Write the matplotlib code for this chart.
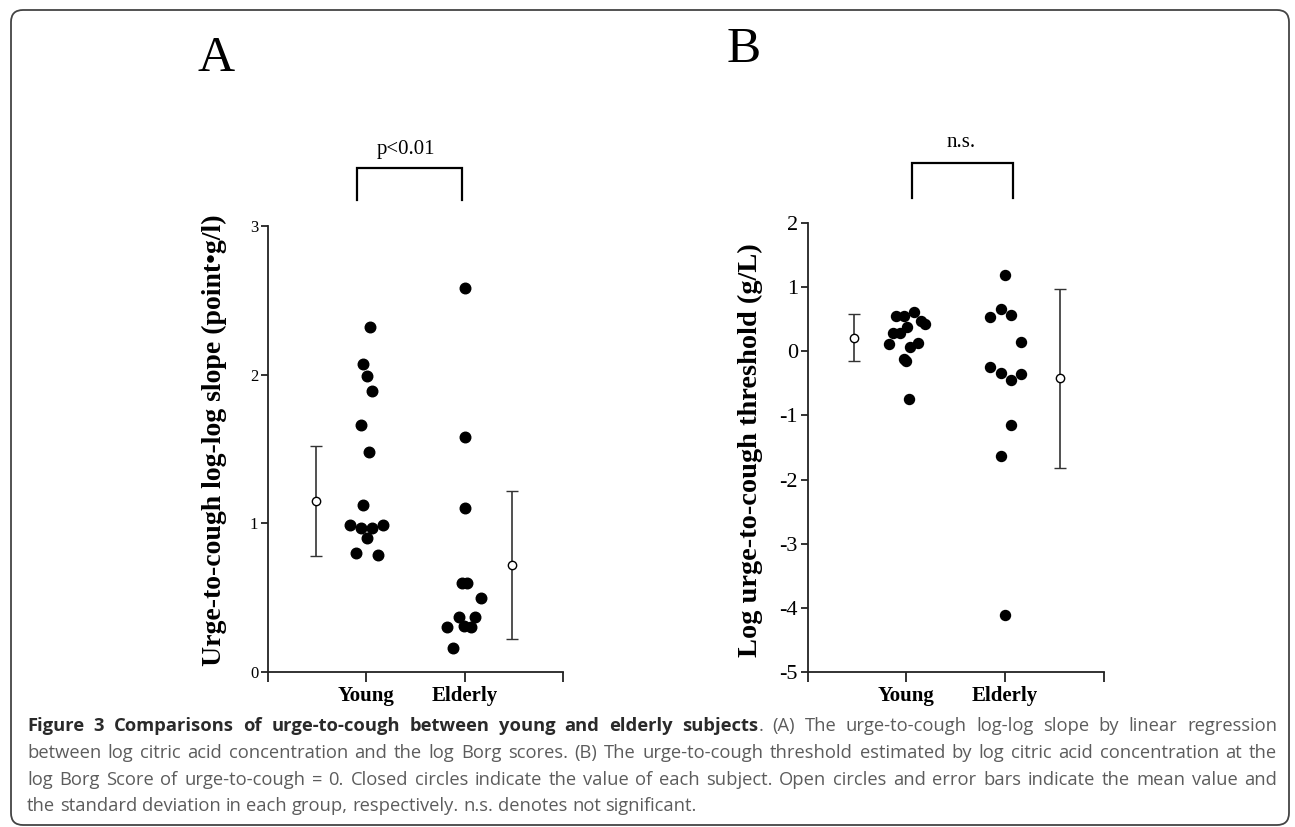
import matplotlib
matplotlib.use("Agg")
import matplotlib.pyplot as plt
from matplotlib.patches import FancyBboxPatch
from matplotlib.transforms import IdentityTransform

# ---------------- data ----------------
groups = ["Young", "Elderly"]

# Panel A: urge-to-cough log-log slope
young_slope = [2.32, 2.07, 1.99, 1.89, 1.66, 1.48, 1.12, 0.99, 0.97, 0.97, 0.99, 0.90, 0.80, 0.79]
young_slope_dx = [0.04, -0.03, 0.01, 0.06, -0.05, 0.03, -0.03, -0.17, -0.05, 0.06, 0.17, 0.01, -0.11, 0.12]
elderly_slope = [2.58, 1.58, 1.10, 0.60, 0.60, 0.50, 0.37, 0.37, 0.31, 0.30, 0.30, 0.16]
elderly_slope_dx = [0.00, 0.00, 0.00, -0.03, 0.02, 0.17, -0.06, 0.11, -0.01, 0.06, -0.18, -0.12]
slope_mean = [1.15, 0.72]
slope_sd = [0.37, 0.495]

# Panel B: log urge-to-cough threshold
young_thr = [0.11, 0.28, 0.28, 0.55, 0.55, 0.38, 0.61, 0.47, 0.43, 0.07, 0.13, -0.12, -0.16, -0.75]
young_thr_dx = [-0.18, -0.14, -0.07, -0.11, -0.03, 0.01, 0.08, 0.15, 0.19, 0.04, 0.12, -0.03, 0.00, 0.03]
elderly_thr = [1.19, 0.53, 0.65, 0.56, 0.15, -0.25, -0.34, -0.45, -0.36, -1.15, -1.63, -4.11]
elderly_thr_dx = [0.00, -0.15, -0.04, 0.06, 0.16, -0.15, -0.04, 0.06, 0.16, 0.06, -0.04, 0.00]
thr_mean = [0.21, -0.42]
thr_sd = [0.365, 1.395]

yticks_A = [0, 1, 2, 3]
yticks_B = [-5, -4, -3, -2, -1, 0, 1, 2]

# ---------------- layout ----------------
W, H = 1295, 827
fig = plt.figure(figsize=(W / 100, H / 100), dpi=100)
fig.patch.set_facecolor("white")
SERIF = "Liberation Serif"
CAPF = "Open Sans"

axA = fig.add_axes([268 / W, 1 - 672 / H, 295 / W, 446 / H])
axB = fig.add_axes([807.7 / W, 1 - 672.3 / H, 296.3 / W, 449.6 / H])

def style_axis(ax, ylim, yticks, ytick_size):
    for s in ("top", "right"):
        ax.spines[s].set_visible(False)
    for s in ("left", "bottom"):
        ax.spines[s].set_linewidth(1.3)
        ax.spines[s].set_color("#222222")
    ax.set_xlim(0, 3)
    ax.set_ylim(*ylim)
    ax.set_xticks([0, 1, 2, 3])
    ax.set_xticklabels(["", groups[0], groups[1], ""], fontfamily=SERIF,
                       fontweight="bold", fontsize=15)
    ax.set_yticks(yticks)
    ax.set_yticklabels([str(t) for t in yticks], fontfamily=SERIF, fontsize=ytick_size)
    ax.tick_params(axis="x", direction="out", length=7, width=1.3, color="#222222", pad=3)
    ax.tick_params(axis="y", direction="out", length=5, width=1.3, color="#222222", pad=2)
    ax.set_facecolor("none")

style_axis(axA, (0, 3), yticks_A, 12)
style_axis(axB, (-5, 2), yticks_B, 16)

def draw_group(ax, vals, dx, center, ms):
    ax.plot([center + d for d in dx], vals, "o", color="black", ms=ms, clip_on=False, zorder=3)

draw_group(axA, young_slope, young_slope_dx, 1, 7.6)
draw_group(axA, elderly_slope, elderly_slope_dx, 2, 7.6)
draw_group(axB, young_thr, young_thr_dx, 1, 7.2)
draw_group(axB, elderly_thr, elderly_thr_dx, 2, 7.2)

mean_x_A = [0.49, 2.48]
mean_x_B = [0.47, 2.55]
for ax, mx, m, sd in ((axA, mean_x_A, slope_mean, slope_sd), (axB, mean_x_B, thr_mean, thr_sd)):
    ax.errorbar(mx, m, yerr=sd, fmt="o", mfc="white", mec="black", mew=1.0, ms=6,
                ecolor="#333333", elinewidth=1.2, capsize=4.5, capthick=1.2,
                clip_on=False, zorder=4)

# significance brackets
axA.plot([0.91, 0.91, 1.97, 1.97], [3.175, 3.39, 3.39, 3.175], color="black", lw=1.6,
         clip_on=False, solid_joinstyle="miter")
axA.text(1.40, 3.484, "p<0.01", ha="center", va="baseline", fontfamily=SERIF, fontsize=15)
axB.plot([1.056, 1.056, 2.078, 2.078], [2.38, 2.93, 2.93, 2.38], color="black", lw=1.6,
         clip_on=False, solid_joinstyle="miter")
axB.text(1.55, 3.177, "n.s.", ha="center", va="baseline", fontfamily=SERIF, fontsize=15)

# panel letters
fig.text(198 / W, 1 - 71 / H, "A", fontfamily=SERIF, fontsize=37, va="baseline", ha="left")
fig.text(727 / W, 1 - 62 / H, "B", fontfamily=SERIF, fontsize=37, va="baseline", ha="left")

# y labels
fig.text(214 / W, 1 - 440 / H, "Urge-to-cough log-log slope (point\u2022g/l)", rotation=90,
         ha="center", va="center", fontfamily=SERIF, fontweight="bold", fontsize=20)
fig.text(750 / W, 1 - 450 / H, "Log urge-to-cough threshold (g/L)", rotation=90,
         ha="center", va="center", fontfamily=SERIF, fontweight="bold", fontsize=20.4)

# border
border = FancyBboxPatch((11, 2), 1278, 815, boxstyle="round,pad=0,rounding_size=12",
                        transform=IdentityTransform(), fill=False, edgecolor="#444444",
                        linewidth=1.3)
fig.patches.append(border)

# ---------------- caption ----------------
renderer = fig.canvas.get_renderer()
BOLD_C, REG_C = "#2a2a2a", "#5c5c5c"

def words_of(text, weight):
    return [[(w, weight)] for w in text.split(" ")]

line1 = words_of("Figure 3 Comparisons of urge-to-cough between young and elderly", "bold")
line1 += [[("subjects", "bold"), (".", "normal")]]
line1 += words_of("(A) The urge-to-cough log-log slope by linear regression", "normal")
line2 = words_of("between log citric acid concentration and the log Borg scores. (B) The "
                 "urge-to-cough threshold estimated by log citric acid concentration at the", "normal")
line3 = words_of("log Borg Score of urge-to-cough = 0. Closed circles indicate the value of each "
                 "subject. Open circles and error bars indicate the mean value and", "normal")
line4 = words_of("the standard deviation in each group, respectively. n.s. denotes not significant.",
                 "normal")

def measure(s, weight, size):
    t = fig.text(0, 0, s, fontsize=size, fontfamily=CAPF, fontweight=weight)
    w = t.get_window_extent(renderer).width
    t.remove()
    return w

def space_w(size):
    return measure("a a", "normal", size) - measure("aa", "normal", size)

def natural_width(words, size):
    tot = 0
    for wd in words:
        for s, wt in wd:
            tot += measure(s, wt, size)
    return tot + space_w(size) * (len(words) - 1)

base = 12.0
scale = 666.0 / natural_width(line4, base)
csize = base * scale

left, right = 27, 1277
baselines = [731, 758, 785, 811]
for words, yb, justify in ((line1, baselines[0], True), (line2, baselines[1], True),
                           (line3, baselines[2], True), (line4, baselines[3], False)):
    widths = [[measure(s, wt, csize) for s, wt in wd] for wd in words]
    total = sum(sum(w) for w in widths)
    gap = (right - left - total) / (len(words) - 1) if justify else space_w(csize)
    x = left
    for wd, ws in zip(words, widths):
        for (s, wt), w in zip(wd, ws):
            fig.text(x / W, 1 - yb / H, s, fontsize=csize, fontfamily=CAPF, fontweight=wt,
                     color=BOLD_C if wt == "bold" else REG_C, ha="left", va="baseline")
            x += w
        x += gap

fig.savefig("out.png", dpi=100)
